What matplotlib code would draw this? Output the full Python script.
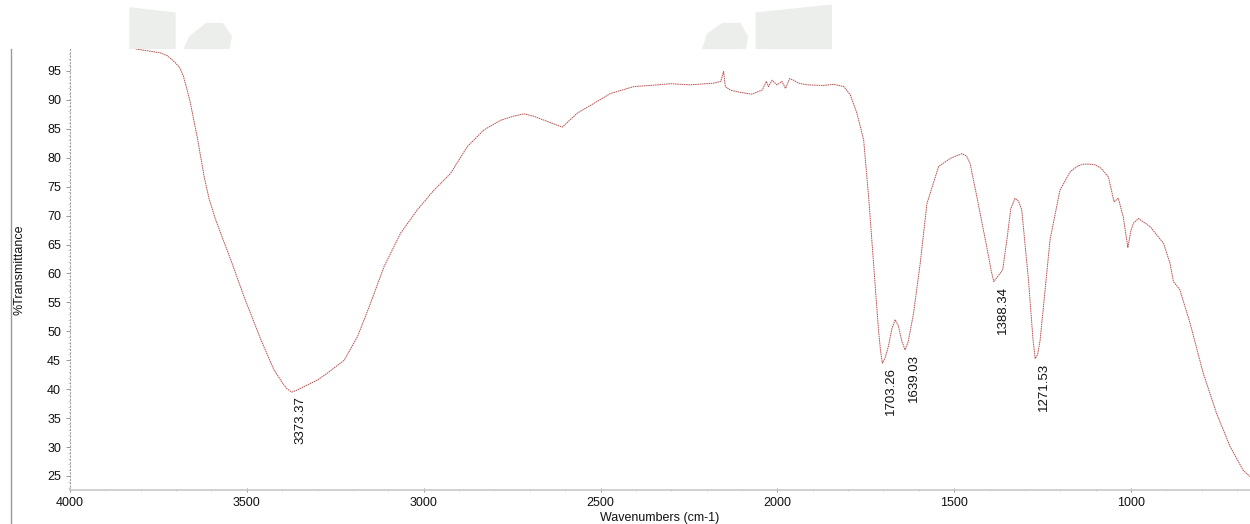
import matplotlib
matplotlib.use("Agg")
import matplotlib.pyplot as plt
from matplotlib.ticker import MultipleLocator
from matplotlib.lines import Line2D
from matplotlib.patches import Polygon

plt.rcParams['font.family'] = ['Liberation Sans', 'DejaVu Sans']

wavenumber = [3814, 3771, 3743, 3724, 3705, 3690, 3680, 3670, 3660, 3650, 3640, 3630,
              3620, 3607, 3590, 3570, 3545, 3508, 3460, 3423, 3395, 3385, 3373, 3360,
              3340, 3300, 3272, 3225, 3187, 3150, 3112, 3065, 3018, 2971, 2924, 2877,
              2830, 2782, 2745, 2717, 2690, 2660, 2608, 2566, 2519, 2472, 2406, 2340,
              2302, 2246, 2180, 2160, 2152, 2147, 2133, 2105, 2072, 2043, 2031, 2025,
              2015, 2001, 1987, 1977, 1965, 1954, 1940, 1916, 1869, 1841, 1812, 1794,
              1775, 1756, 1742, 1728, 1714, 1708, 1703, 1696, 1686, 1676, 1667, 1658,
              1648, 1639, 1630, 1615, 1596, 1577, 1544, 1511, 1490, 1478, 1465, 1455,
              1436, 1408, 1395, 1388, 1378, 1363, 1351, 1340, 1328, 1318, 1309, 1290,
              1277, 1271, 1264, 1257, 1229, 1201, 1172, 1150, 1135, 1118, 1102, 1085,
              1064, 1048, 1036, 1022, 1009, 1000, 993, 979, 946, 908, 890, 880, 862,
              833, 796, 758, 720, 683, 664]
transmittance = [98.8, 98.4, 98.1, 97.6, 96.6, 95.6, 94.2, 92.0, 89.6, 86.5, 83.5, 80.0,
                 76.5, 73.0, 69.6, 66.3, 62.3, 56.0, 48.5, 43.3, 40.7, 40.0, 39.5, 39.8,
                 40.4, 41.6, 42.8, 45.0, 49.1, 54.9, 61.2, 67.0, 71.0, 74.4, 77.3, 81.9,
                 84.8, 86.5, 87.2, 87.6, 87.2, 86.5, 85.3, 87.7, 89.4, 91.1, 92.3, 92.6,
                 92.8, 92.6, 92.9, 93.2, 94.9, 92.3, 91.7, 91.3, 91.0, 91.7, 93.2, 92.3,
                 93.4, 92.6, 93.2, 92.0, 93.7, 93.4, 92.9, 92.6, 92.5, 92.7, 92.3, 90.9,
                 87.7, 83.1, 73.3, 61.8, 50.2, 46.5, 44.5, 45.3, 47.4, 50.5, 52.0, 51.0,
                 48.3, 46.8, 48.2, 53.1, 61.8, 72.1, 78.5, 79.9, 80.4, 80.7, 80.3, 79.0,
                 73.3, 64.6, 60.4, 58.6, 59.4, 60.6, 65.8, 71.2, 73.0, 72.5, 71.0, 58.9,
                 48.5, 45.3, 46.0, 48.5, 65.8, 74.4, 77.6, 78.6, 78.9, 78.9, 78.8, 78.2,
                 76.7, 72.4, 73.0, 69.8, 64.5, 67.5, 68.7, 69.5, 68.1, 65.2, 61.8, 58.6,
                 57.2, 51.4, 42.8, 35.8, 30.1, 26.0, 24.9]

peak_labels = ["3373.37", "1703.26", "1639.03", "1388.34", "1271.53"]
peak_wn = [3373, 1703, 1639, 1388, 1271]
peak_t = [39.5, 44.5, 46.8, 58.6, 45.3]

fig = plt.figure(figsize=(12.5, 5.24), dpi=100)

# faint watermark shapes at the top
wm = '#eceeec'
fig.add_artist(Polygon([(0.104, 0.985), (0.14, 0.975), (0.14, 0.905), (0.104, 0.905)],
                       closed=True, transform=fig.transFigure, color=wm, zorder=0))
fig.add_artist(Polygon([(0.147, 0.905), (0.152, 0.93), (0.165, 0.955), (0.178, 0.955),
                        (0.185, 0.93), (0.183, 0.905)],
                       closed=True, transform=fig.transFigure, color=wm, zorder=0))
fig.add_artist(Polygon([(0.562, 0.905), (0.566, 0.935), (0.578, 0.955), (0.592, 0.955),
                        (0.598, 0.93), (0.596, 0.905)],
                       closed=True, transform=fig.transFigure, color=wm, zorder=0))
fig.add_artist(Polygon([(0.605, 0.975), (0.665, 0.99), (0.665, 0.905), (0.605, 0.905)],
                       closed=True, transform=fig.transFigure, color=wm, zorder=0))

# outer frame line at left
fig.add_artist(Line2D([0.0088, 0.0088], [0.0, 0.9065], transform=fig.transFigure,
                      color='#9a9a9a', lw=1.0))

ax = fig.add_axes([70 / 1250, 1 - 490 / 524, 1 - 70 / 1250, (490 - 49) / 524])
ax.set_facecolor('white')

ax.plot(wavenumber, transmittance, color='#b85050', lw=0.7, linestyle=(0, (1.6, 0.7)))

ax.set_xlim(4000, 663.6)
ax.set_ylim(22.58, 98.8)

for lab, w, t in zip(peak_labels, peak_wn, peak_t):
    ax.annotate(lab, xy=(w, t), xytext=(9, -4), textcoords='offset pixels',
                rotation=90, ha='center', va='top', fontsize=9.5, color='#111111')

ax.xaxis.set_major_locator(MultipleLocator(500))
ax.xaxis.set_minor_locator(MultipleLocator(100))
ax.yaxis.set_major_locator(MultipleLocator(5))
ax.yaxis.set_minor_locator(MultipleLocator(1))

for s in ['top', 'right']:
    ax.spines[s].set_visible(False)
ax.spines['left'].set_color('#a0a0a0')
ax.spines['left'].set_linestyle((0, (1, 2)))
ax.spines['left'].set_linewidth(0.8)
ax.spines['bottom'].set_color('#c8c8c8')
ax.spines['bottom'].set_linewidth(1.2)

ax.tick_params(axis='both', which='major', labelsize=9, colors='#888888',
               labelcolor='#111111', length=3, width=0.6, direction='out')
ax.tick_params(axis='both', which='minor', length=1.5, width=0.5, colors='#bbbbbb')
ax.tick_params(axis='x', which='both', direction='inout')

ax.set_xlabel('Wavenumbers (cm-1)', fontsize=9, labelpad=2, color='#111111')
ax.set_ylabel('%Transmittance', fontsize=9, color='#111111')
ax.yaxis.set_label_coords(-0.038, 0.5)

fig.savefig('out.png', dpi=100)
